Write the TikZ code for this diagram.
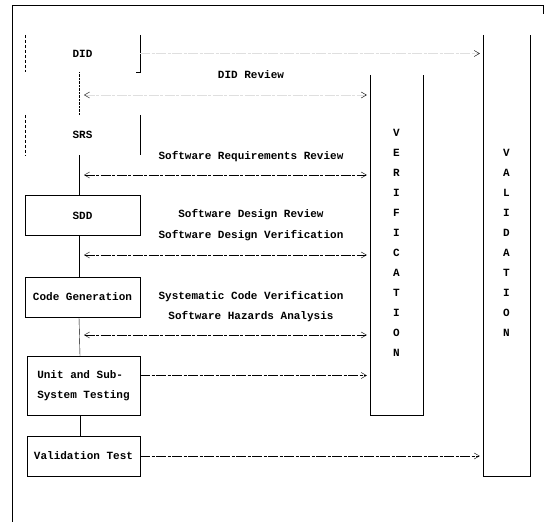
\documentclass[tikz,border=0pt]{standalone}
\usepackage{fontspec}
\setmonofont{Liberation Mono}
\usetikzlibrary{arrows.meta}
\tikzset{dark/.tip={Straight Barb[angle=60:6pt,color=black]}}

\begin{document}
\begin{tikzpicture}[x=1pt,y=-1pt,>={Straight Barb[angle=60:6pt]},font=\ttfamily\bfseries\fontsize{11}{20}\selectfont]
	\tikzstyle{every node}+=[inner sep=0pt]
	\tikzstyle{phase}=[minimum width=115pt,minimum height=40pt,align=center]
	\tikzstyle{flow}=[dash pattern=on 10pt off 1.5pt on 3pt off 1.5pt,shorten >=3pt]
	\tikzstyle{faint}=[flow,draw=gray!25]
	\useasboundingbox (0,0) rectangle (547,522);
	% frame
	\draw (12,522) -- (12,5) -- (543,5) -- (543,14);
	% phases of the life cycle
	\node[phase,minimum height=37pt] (did) at (82.5,53.5) {DID};
	\node[phase] (srs) at (82.5,135) {SRS};
	\node[phase,draw] (sdd) at (82.5,215.5) {SDD};
	\node[phase,draw] (code) at (82.5,297) {Code Generation};
	\node[phase,draw,minimum width=113pt,minimum height=59pt,align=left] (unit) at (83.5,385.5) {Unit and Sub-\\System Testing};
	\node[phase,draw,minimum width=113pt] (vt) at (83.5,456) {Validation Test};
	% DID and SRS only keep their sides
	\draw[densely dashed] (did.north west) -- (did.south west);
	\draw (did.north east) -- (did.south east) -- ++(-4,0);
	\draw[densely dashed] (srs.north west) -- (srs.south west);
	\draw (srs.north east) -- (srs.south east);
	% links down the chain
	\draw[densely dotted] ([xshift=-3.5pt]did.south) -- ([xshift=-3.5pt]srs.north);
	\draw ([xshift=-3.5pt]srs.south) -- ([xshift=-3.5pt]sdd.north);
	\draw ([xshift=-3.5pt]sdd.south) -- ([xshift=-3.5pt]code.north);
	\draw ([xshift=-3.5pt]code.south) -- ([xshift=-3.5pt]unit.north);
	\draw ([xshift=-3.5pt]unit.south) -- ([xshift=-3.5pt]vt.north);
	% verification and validation columns (open at the top)
	\node[minimum width=53pt,minimum height=340pt] (verif) at (396.5,245) {};
	\draw (verif.north west) -- (verif.south west) -- (verif.south east) -- (verif.north east);
	\node[align=center] (verift) at (396.5,243) {V\\E\\R\\I\\F\\I\\C\\A\\T\\I\\O\\N};
	\node[minimum width=47pt,minimum height=441pt] (valid) at (506.5,255.5) {};
	\draw (valid.north west) -- (valid.south west) -- (valid.south east) -- (valid.north east);
	\node[align=center] (validt) at (506.5,243) {V\\A\\L\\I\\D\\A\\T\\I\\O\\N};
	% reviews
	\coordinate (r1) at (84,95);
	\coordinate (r2) at (84,175);
	\coordinate (r3) at (84,255);
	\coordinate (r4) at (84,335);
	\draw[faint,-dark] (did.east) -- (did.east -| valid.west);
	\draw[faint,dark-dark] (r1) -- (r1 -| verif.west);
	\draw[<->,flow] (r2) -- (r2 -| verif.west);
	\draw[<->,flow] (r3) -- (r3 -| verif.west);
	\draw[<->,flow] (r4) -- (r4 -| verif.west);
	\draw[->,flow] ([yshift=10pt]unit.east) -- ([yshift=10pt]unit.east -| verif.west);
	\draw[->,flow] (vt.east) -- (vt.east -| valid.west);
	\node (l1) at (251,75) {DID Review};
	\node (l2) at (251,157) {Software Requirements Review};
	\node (l3) at (251,215) {Software Design Review};
	\node (l4) at (251,236) {Software Design Verification};
	\node (l5) at (251,297) {Systematic Code Verification};
	\node (l6) at (251,317) {Software Hazards Analysis};
\end{tikzpicture}
\end{document}
